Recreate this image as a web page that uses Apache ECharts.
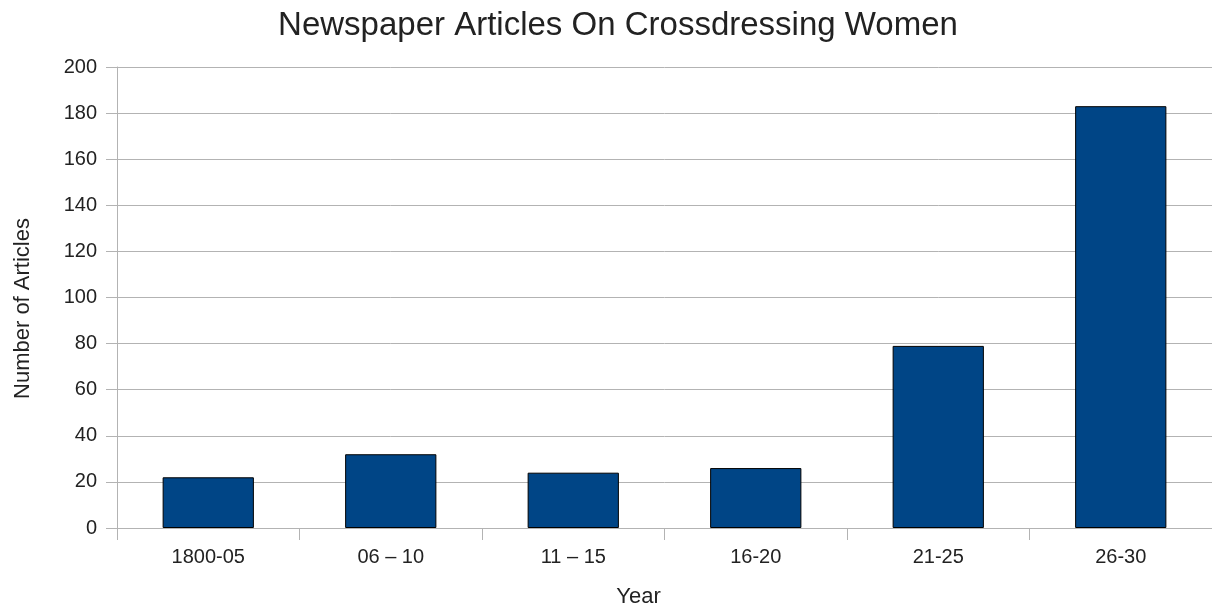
<!DOCTYPE html>
<html>
<head>
<meta charset="utf-8">
<script src="https://cdn.jsdelivr.net/npm/echarts@6/dist/echarts.min.js"></script>
<style>
html,body{margin:0;padding:0;background:#fff;overflow:hidden;}
#chart{width:1212px;height:613px;}
</style>
</head>
<body>
<div id="chart"></div>
<script>
const categories = ['1800-05', '06 \u2013 10', '11 \u2013 15', '16-20', '21-25', '26-30'];
const articles = [22, 32, 24, 26, 79, 183];
const titleText = 'Newspaper Articles On Crossdressing Women';
const xName = 'Year';
const yName = 'Number of Articles';

const chart = echarts.init(document.getElementById('chart'), null, {renderer: 'canvas'});
const font = 'Liberation Sans, Arial, sans-serif';
const gridColor = '#b3b3b3';
const textColor = '#222222';

chart.setOption({
  backgroundColor: '#ffffff',
  animation: false,
  title: {
    text: titleText,
    left: 613,
    textAlign: 'center',
    top: 4,
    textStyle: {fontFamily: font, fontSize: 33, fontWeight: 'normal', color: textColor}
  },
  grid: {left: 117, top: 67, width: 1098, height: 463, containLabel: false},
  xAxis: {
    type: 'category',
    data: categories,
    name: xName,
    nameLocation: 'middle',
    nameGap: 58,
    nameTextStyle: {fontFamily: font, fontSize: 22, color: textColor, padding: [0, 52, 0, 0]},
    axisLine: {show: true, lineStyle: {color: gridColor, width: 1}},
    axisTick: {show: true, length: 12, lineStyle: {color: gridColor}},
    axisLabel: {fontFamily: font, fontSize: 20, color: textColor, margin: 19}
  },
  yAxis: {
    type: 'value',
    min: 0,
    max: 200,
    interval: 20,
    name: yName,
    nameLocation: 'middle',
    nameGap: 83,
    nameRotate: 90,
    nameTextStyle: {fontFamily: font, fontSize: 22, color: textColor, padding: [0, 22, 0, 0]},
    axisLine: {show: true, lineStyle: {color: gridColor, width: 1}},
    axisTick: {show: true, length: 11, lineStyle: {color: gridColor}},
    axisLabel: {fontFamily: font, fontSize: 20, color: textColor, margin: 20},
    splitLine: {show: true, lineStyle: {color: gridColor, width: 1}}
  },
  series: [{
    type: 'bar',
    data: articles,
    barWidth: '50%',
    itemStyle: {color: '#004586', borderColor: '#000000', borderWidth: 1}
  }]
});
</script>
</body>
</html>
